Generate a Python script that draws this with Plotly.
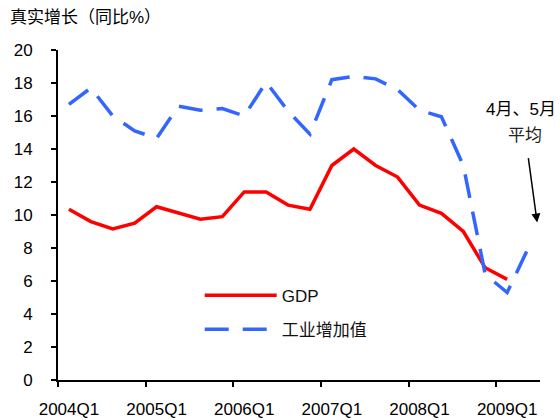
import plotly.graph_objects as go

quarters = ["2004Q1","2004Q2","2004Q3","2004Q4","2005Q1","2005Q2","2005Q3","2005Q4",
            "2006Q1","2006Q2","2006Q3","2006Q4","2007Q1","2007Q2","2007Q3","2007Q4",
            "2008Q1","2008Q2","2008Q3","2008Q4","2009Q1","2009Q2"]
gdp = [10.35, 9.6, 9.15, 9.5, 10.5, 10.1, 9.75, 9.9, 11.4, 11.4, 10.6,
       10.35, 13.0, 14.0, 13.0, 12.3, 10.6, 10.1, 9.0, 6.8, 6.1]
industry = [16.7, 17.7, 16.0, 15.1, 14.65, 16.6, 16.35, 16.45, 16.0, 18.05, 16.3,
            14.9, 18.2, 18.4, 18.25, 17.6, 16.35, 15.95, 13.0, 6.4, 5.3, 8.1]
tick_labels = ["2004Q1","2005Q1","2006Q1","2007Q1","2008Q1","2009Q1"]
y_title = "真实增长（同比%）"
note_line1 = "4月、5月"
note_line2 = "平均"

idx = list(range(len(quarters)))
label_pos = [quarters.index(t) for t in tick_labels]
boundary_pos = [p - 0.5 for p in label_pos]

FONT = "Arial, 'Liberation Sans', 'Noto Sans CJK SC', sans-serif"

fig = go.Figure()
fig.add_trace(go.Scatter(x=idx[:len(gdp)], y=gdp, mode="lines", name="GDP",
                         legendgroup="a",
                         line=dict(color="#FF0000", width=3.5)))
fig.add_trace(go.Scatter(x=idx[:len(industry)], y=industry, mode="lines", name="工业增加值",
                         legendgroup="b",
                         line=dict(color="#3366FF", width=3.5, dash="24px,14px")))

fig.update_layout(
    width=560, height=420,
    margin=dict(l=58, r=20, t=50, b=40, autoexpand=False),
    paper_bgcolor="white", plot_bgcolor="white",
    font=dict(family=FONT, size=17, color="black"),
    showlegend=True,
    legend=dict(x=0.294, y=0.31, xanchor="left", yanchor="top",
                bgcolor="rgba(0,0,0,0)", itemwidth=72, tracegroupgap=9,
                font=dict(size=17, color="#111")),
    xaxis=dict(range=[-0.5, len(quarters) - 0.5], tickmode="array",
               tickvals=label_pos, ticktext=tick_labels, automargin=False,
               ticks="outside", ticklen=5, tickcolor="rgba(0,0,0,0)",
               showline=True, linecolor="black", linewidth=2,
               showgrid=False, zeroline=False, ticklabelstandoff=8,
               minor=dict(tickmode="array", tickvals=boundary_pos, ticks="outside",
                          ticklen=5, tickwidth=2, tickcolor="black", showgrid=False)),
    yaxis=dict(range=[0, 20], dtick=2, tick0=0, ticks="outside", ticklen=5,
               tickwidth=2, tickcolor="black", automargin=False,
               showline=True, linecolor="black", linewidth=2,
               showgrid=False, zeroline=False, ticklabelstandoff=15),
)

fig.add_annotation(text=y_title, xref="paper", yref="paper",
                   x=-0.104, y=1.097, xanchor="left", yanchor="middle",
                   showarrow=False, font=dict(size=17, color="black"))
fig.add_annotation(text=note_line1, xref="x", yref="y",
                   x=20.65, y=16.4, xanchor="center", yanchor="middle",
                   showarrow=False, font=dict(size=17, color="black"))
fig.add_annotation(text=note_line2, xref="x", yref="y",
                   x=20.8, y=14.8, xanchor="center", yanchor="middle",
                   showarrow=False, font=dict(size=17, color="#222"))
fig.add_annotation(x=21.37, y=9.54, xref="x", yref="y", ax=-9, ay=-66,
                   showarrow=True, arrowhead=2, arrowsize=1.2, arrowwidth=1.5,
                   arrowcolor="black", text="")

fig.write_html("out.html", config={"displayModeBar": False},
               post_script="document.body.style.margin='0';document.body.style.overflow='hidden';")
